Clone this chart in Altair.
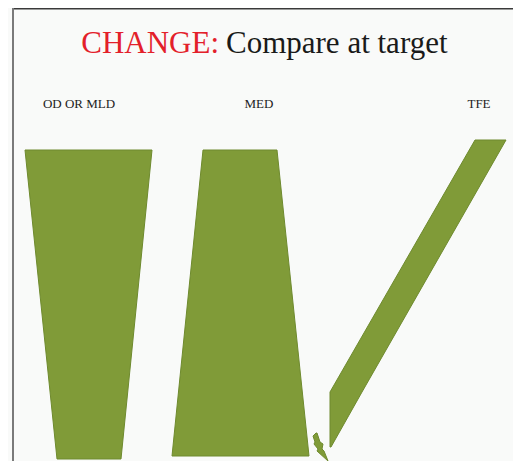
import altair as alt
import pandas as pd

# Shape outlines (vertical position, left edge, right edge)
shape_names = ["OD OR MLD"] * 2 + ["MED"] * 2 + ["TFE"] * 3 + ["bolt"] * 7
shape_y = [150, 459, 150, 456, 140, 392, 447, 433, 436, 442, 444, 449, 451, 461]
shape_xl = [25, 57, 203, 172, 475, 330, 330, 316, 313, 315, 314, 318, 317, 328]
shape_xr = [152, 121, 277, 309, 506, 362, 331, 317, 318, 320, 323, 322, 324, 328]

labels = ["OD OR MLD", "MED", "TFE"]
label_x = [79, 259, 479]
label_y = [108, 108, 108]

title_parts = ["CHANGE:", "Compare at target"]
title_colors = ["#e3202a", "#1a1a1a"]
title_x = [219, 226]
title_y = [53, 53]
title_align = ["right", "left"]

W, H = 505, 453
xs = alt.Scale(domain=[8, 8 + W], nice=False, zero=False)
ys = alt.Scale(domain=[8, 8 + H], nice=False, zero=False, reverse=True)

shapes = pd.DataFrame({"grp": shape_names, "y": shape_y, "xl": shape_xl, "xr": shape_xr})

area = alt.Chart(shapes).mark_area(
    orient="horizontal", color="#809b38", stroke="#6e8a2e", strokeWidth=1, fillOpacity=1
).encode(
    y=alt.Y("y:Q", scale=ys, axis=None),
    x=alt.X("xl:Q", scale=xs, axis=None),
    x2="xr:Q",
    detail="grp:N",
)

lab = alt.Chart(pd.DataFrame({"t": labels, "x": label_x, "y": label_y})).mark_text(
    font="Liberation Serif", fontSize=13, color="#222222", baseline="alphabetic", align="center"
).encode(
    x=alt.X("x:Q", scale=xs, axis=None),
    y=alt.Y("y:Q", scale=ys, axis=None),
    text="t:N",
)

tl = []
for t, c, x, y, a in zip(title_parts, title_colors, title_x, title_y, title_align):
    tl.append(
        alt.Chart(pd.DataFrame({"t": [t], "x": [x], "y": [y]})).mark_text(
            font="Liberation Serif", fontSize=31, color=c, baseline="alphabetic", align=a
        ).encode(
            x=alt.X("x:Q", scale=xs, axis=None),
            y=alt.Y("y:Q", scale=ys, axis=None),
            text="t:N",
        )
    )

top_line = alt.Chart(pd.DataFrame({"a": [0]})).mark_rule(color="#3a3a3a", strokeWidth=1.5).encode(
    x=alt.value(4), x2=alt.value(W), y=alt.value(0.75)
)
left_line = alt.Chart(pd.DataFrame({"a": [0]})).mark_rule(color="#7a7a7a", strokeWidth=2).encode(
    x=alt.value(5), y=alt.value(0), y2=alt.value(H)
)

chart = alt.layer(area, lab, *tl, top_line, left_line).properties(
    width=W, height=H, autosize=alt.AutoSizeParams(type="none"), padding=0, background="#f9faf9"
).configure_view(stroke=None)

chart.save("out.html", embed_options={"renderer": "svg", "actions": False})
